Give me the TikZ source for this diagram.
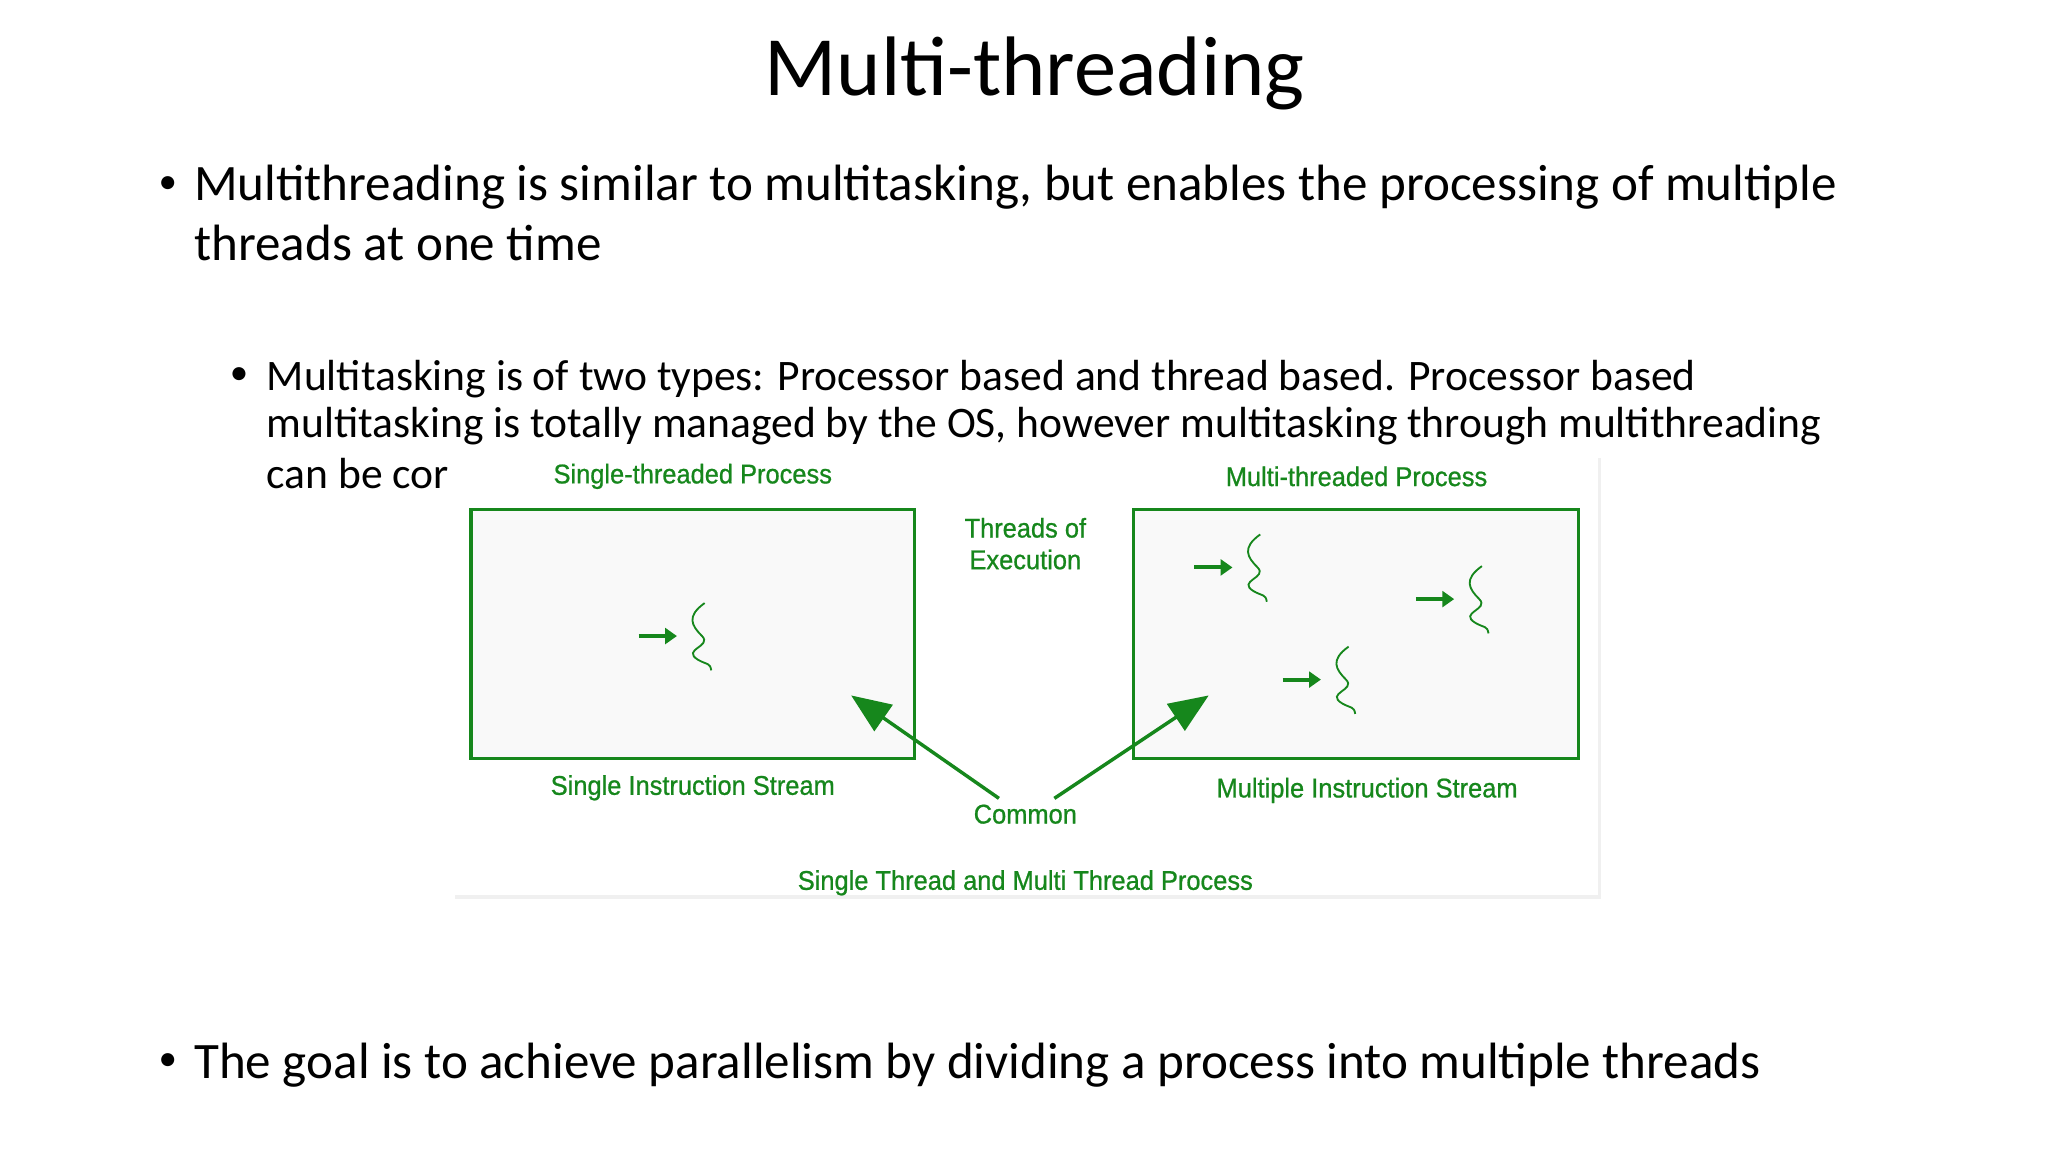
\documentclass[tikz,border=0pt]{standalone}
\usepackage{fontspec}
\setmainfont{Carlito}
\newfontfamily\diag[FakeStretch=0.94,FakeBold=0.8]{Liberation Sans}
\usetikzlibrary{arrows.meta}
\definecolor{gg}{RGB}{22,135,28}
\definecolor{boxfill}{RGB}{249,249,249}
\tikzset{
  dlabel/.style={text=gg,font=\diag\fontsize{20.5}{24}\selectfont,align=center,inner sep=0pt},
  pbox/.style={draw=gg,line width=2.6pt,fill=boxfill},
  bigarr/.style={draw=gg,line width=2.6pt,-{Triangle[length=30pt,width=24pt]}},
  smarr/.style={draw=gg,line width=3pt,-{Triangle[length=9pt,width=12pt]}},
  thr/.style={draw=gg,line width=1.4pt},
  body/.style={anchor=west,inner sep=0pt,font=\fontsize{38.7}{44}\selectfont},
  sbody/.style={anchor=west,inner sep=0pt,font=\fontsize{33}{36}\selectfont},
  bul/.style={anchor=west,inner sep=0pt,font=\fontsize{28}{30}\selectfont}
}
\begin{document}
\begin{tikzpicture}[x=1pt,y=-1pt]
\useasboundingbox (0,0) rectangle (1552,873);
\node[inner sep=0pt,font=\fontsize{64}{70}\selectfont] (title) at (784,56) {Multi-threading};
\node[bul] (b1) at (120,140) {•};
\node[body] (t1) at (147,142) {Multithreading is similar to multitasking, but enables the processing of multiple};
\node[body] (t1b) at (147,184) {threads at one time};
\node[bul] (b2) at (174,285) {•};
\node[sbody] (t2) at (202,287) {Multitasking is of two types: Processor based and thread based. Processor based};
\node[sbody] (t2b) at (202,323) {multitasking is totally managed by the OS, however multitasking through multithreading};
\node[sbody] (t2c) at (202,359) {can be cor};
\node[bul] (b3) at (120,805) {•};
\node[body] (t3) at (147,807) {The goal is to achieve parallelism by dividing a process into multiple threads};
% image
\fill[black!6] (345,347) rectangle (1213,681);
\fill[white] (343,345) rectangle (1211,678);
\node[pbox,minimum width=336pt,minimum height=189pt,inner sep=0pt] (L) at (525,480.5) {};
\node[pbox,minimum width=337pt,minimum height=189pt,inner sep=0pt] (R) at (1027.5,480.5) {};
\node[dlabel] (lt) at (525,361) {Single-threaded Process};
\node[dlabel] (rt) at (1028,361) {Multi-threaded Process};
\node[dlabel] (te) at (777,412) {Threads of\\Execution};
\node[dlabel] (lb) at (525,597) {Single Instruction Stream};
\node[dlabel] (rb) at (1036,599) {Multiple Instruction Stream};
\node[dlabel] (cm) at (777,617) {Common};
\node[dlabel] (cap) at (777,669) {Single Thread and Multi Thread Process};
\coordinate (c1) at (757,605); \coordinate (e1) at (645,527);
\coordinate (c2) at (799,605); \coordinate (e2) at (916,527);
\draw[bigarr] (c1) -- (e1);
\draw[bigarr] (c2) -- (e2);
\foreach \ax/\ay/\n in {484/482/a,905/430/b,1073/454/c,972/515/d}{
  \coordinate (s\n) at (\ax,\ay);
  \coordinate (f\n) at (\ax+29,\ay);
  \draw[smarr] (s\n) -- (f\n);
  \draw[thr] (\ax+50,\ay-25) .. controls (\ax+36,\ay-15) and (\ax+40,\ay-8) .. (\ax+48,\ay)
     .. controls (\ax+56,\ay+8) and (\ax+32,\ay+10) .. (\ax+45,\ay+18)
     .. controls (\ax+52,\ay+22) and (\ax+54,\ay+20) .. (\ax+55,\ay+26);
}
\end{tikzpicture}
\end{document}
